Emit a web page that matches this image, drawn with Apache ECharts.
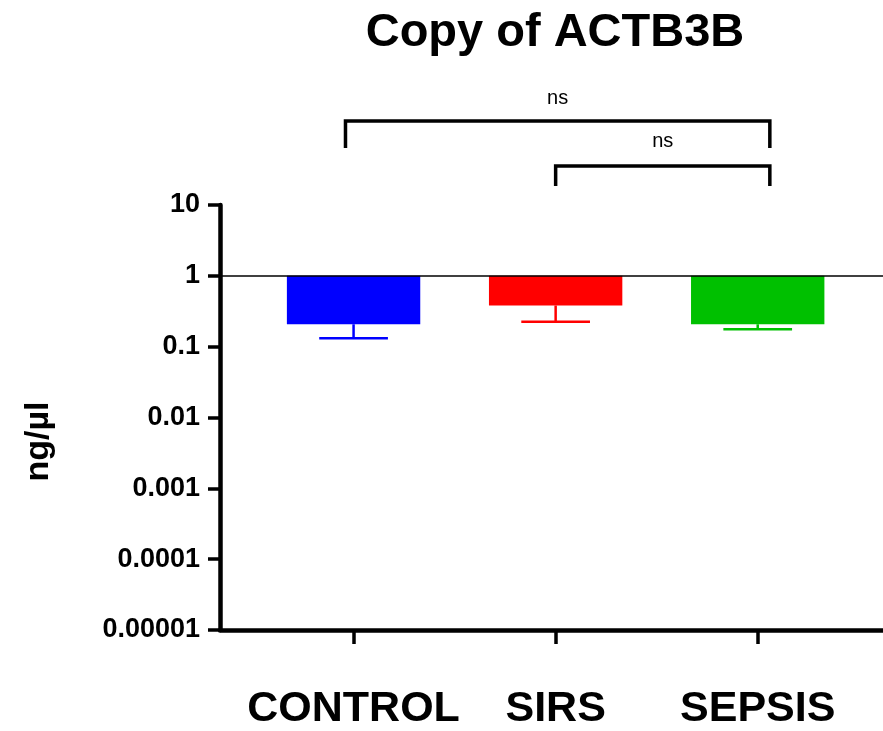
<!DOCTYPE html>
<html>
<head>
<meta charset="utf-8">
<script src="https://cdn.jsdelivr.net/npm/echarts@6/dist/echarts.min.js"></script>
<style>
  html, body { margin: 0; padding: 0; background: #ffffff; }
  #chart { width: 883px; height: 731px; }
</style>
</head>
<body>
<div id="chart"></div>
<script>
// Group names, mean values and lower error limits (ng/µl)
const categories = ['CONTROL', 'SIRS', 'SEPSIS'];
const means = [0.207, 0.381, 0.207];
const errorLow = [0.131, 0.224, 0.176];
const yTickLabels = ['0.00001', '0.0001', '0.001', '0.01', '0.1', '1', '10'];
// Pairwise comparisons: [group index A, group index B, result]
const comparisons = [[0, 2, 'ns'], [1, 2, 'ns']];

const barColors = ['#0000ff', '#ff0000', '#00c000'];
const FONT = '"Liberation Sans", Arial, Helvetica, sans-serif';

const chart = echarts.init(document.getElementById('chart'), null, { renderer: 'canvas' });

const barData = categories.map((c, i) => [i, means[i]]);
const errData = categories.map((c, i) => [i, means[i], errorLow[i]]);

chart.setOption({
  backgroundColor: '#ffffff',
  animation: false,
  grid: { left: 220, right: 0, top: 205, bottom: 100, containLabel: false },
  xAxis: {
    type: 'value',
    min: -0.661,
    max: 2.62,
    splitLine: { show: false },
    axisLine: { show: true, onZero: false, lineStyle: { color: '#000', width: 4.5 } },
    axisTick: { show: true, customValues: [0, 1, 2], length: 14, lineStyle: { color: '#000', width: 3.5 } },
    axisLabel: {
      customValues: [0, 1, 2],
      formatter: v => categories[Math.round(v)],
      margin: 58,
      color: '#000',
      fontFamily: FONT,
      fontWeight: 'bold',
      fontSize: 43
    }
  },
  yAxis: {
    type: 'log',
    logBase: 10,
    min: 0.00001,
    max: 10,
    splitNumber: 6,
    name: 'ng/µl',
    nameLocation: 'middle',
    nameGap: 164,
    nameRotate: 90,
    nameTextStyle: {
      color: '#000', fontFamily: FONT, fontWeight: 'bold', fontSize: 34,
      padding: [0, 48, 0, 0]
    },
    splitLine: { show: false },
    axisLine: { show: true, onZero: false, lineStyle: { color: '#000', width: 4.5 } },
    axisTick: { show: true, length: 12, lineStyle: { color: '#000', width: 3.5 } },
    axisLabel: {
      formatter: v => yTickLabels[Math.round(Math.log10(v)) + 5],
      margin: 20,
      color: '#000',
      fontFamily: FONT,
      fontWeight: 'bold',
      fontSize: 27
    }
  },
  series: [
    {
      // bars hang from the reference value 1 down to the group mean
      type: 'custom',
      data: barData,
      z: 2,
      renderItem(params, api) {
        const i = api.value(0);
        const base = api.coord([i, 1]);
        const end = api.coord([i, api.value(1)]);
        const band = api.coord([i + 1, 1])[0] - base[0];
        const w = band * 0.66;
        return {
          type: 'rect',
          shape: { x: base[0] - w / 2, y: base[1], width: w, height: end[1] - base[1] },
          style: { fill: barColors[i] }
        };
      },
      markLine: {
        silent: true,
        symbol: 'none',
        label: { show: false },
        lineStyle: { color: '#000', width: 1.5, type: 'solid' },
        data: [{ yAxis: 1 }]
      }
    },
    {
      // lower error whisker with a cap
      type: 'custom',
      data: errData,
      z: 3,
      renderItem(params, api) {
        const i = api.value(0);
        const top = api.coord([i, api.value(1)]);
        const low = api.coord([i, api.value(2)]);
        const band = api.coord([i + 1, 1])[0] - api.coord([i, 1])[0];
        const half = band * 0.17;
        const stroke = { stroke: barColors[i], lineWidth: 2.5 };
        return {
          type: 'group',
          children: [
            { type: 'line', shape: { x1: top[0], y1: top[1], x2: low[0], y2: low[1] }, style: stroke },
            { type: 'line', shape: { x1: low[0] - half, y1: low[1], x2: low[0] + half, y2: low[1] }, style: stroke }
          ]
        };
      }
    }
  ]
});

// Title and significance brackets above the plot area
const bracketRows = [
  { top: 121, leg: 148, text: 98, leftShift: -0.04, rightShift: 0.06 },
  { top: 166, leg: 186, text: 141, leftShift: 0.0, rightShift: 0.06 }
];
const graphics = [{
  type: 'text',
  style: {
    x: 555, y: 33,
    text: 'Copy of ACTB3B',
    fill: '#000',
    font: 'bold 47px ' + FONT,
    textAlign: 'center',
    textVerticalAlign: 'middle'
  }
}];
comparisons.forEach((cmp, k) => {
  const row = bracketRows[k];
  const x1 = chart.convertToPixel({ xAxisIndex: 0 }, cmp[0] + row.leftShift);
  const x2 = chart.convertToPixel({ xAxisIndex: 0 }, cmp[1] + row.rightShift);
  graphics.push({
    type: 'polyline',
    shape: { points: [[x1, row.leg], [x1, row.top], [x2, row.top], [x2, row.leg]] },
    style: { stroke: '#000', lineWidth: 3.5, fill: null }
  });
  graphics.push({
    type: 'text',
    style: {
      x: (x1 + x2) / 2, y: row.text,
      text: cmp[2],
      fill: '#000',
      font: '20px ' + FONT,
      textAlign: 'center',
      textVerticalAlign: 'middle'
    }
  });
});
chart.setOption({ graphic: graphics });
</script>
</body>
</html>
